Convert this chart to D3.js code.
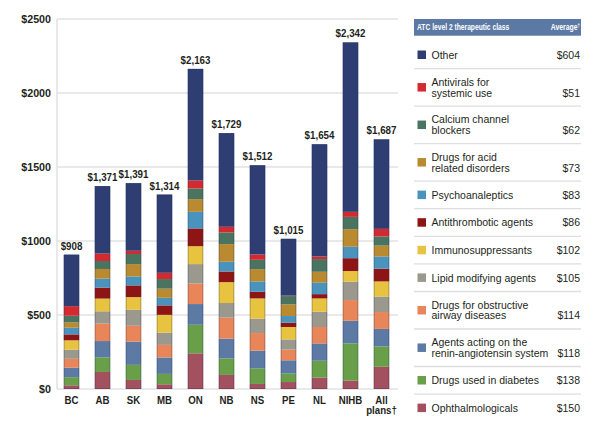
<!DOCTYPE html>
<html><head><meta charset="utf-8">
<script src="https://cdn.jsdelivr.net/npm/d3@7"></script>
<style>
body{margin:0;background:#fff;}
svg{display:block;font-family:"Liberation Sans",Arial,sans-serif;}
</style></head>
<body><svg id="c" width="600" height="423"></svg>
<script>
// ---- data ----
const categories = ["BC","AB","SK","MB","ON","NB","NS","PE","NL","NIHB","All plans†"];
// series, bottom to top of each stack
const ophthalmologicals = [25,115,61,32,241,95,34,47,77,56,150];
const diabetes          = [55,99,102,70,193,112,106,57,114,252,138];
const reninAngiotensin  = [64,110,157,111,140,133,119,90,117,153,118];
const obstructiveAirway = [60,118,107,85,139,142,119,72,111,140,114];
const lipidModifying    = [62,83,108,83,131,99,97,69,103,124,105];
const immunosuppressants= [63,86,86,120,121,141,137,84,90,72,102];
const antithrombotic    = [40,74,79,64,120,72,45,29,29,87,86];
const psychoanaleptics  = [45,61,61,51,112,66,70,45,77,77,83];
const acidRelated       = [36,65,83,62,86,119,83,79,74,119,73];
const calciumChannel    = [45,54,68,65,72,79,63,56,86,83,62];
const antivirals        = [65,50,22,42,54,38,36,3,18,34,51];
const other             = [348,456,457,529,754,633,603,384,758,1145,605];

const seriesNames = ["Ophthalmologicals","Drugs used in diabetes","Agents acting on the renin-angiotensin system","Drugs for obstructive airway diseases","Lipid modifying agents","Immunosuppressants","Antithrombotic agents","Psychoanaleptics","Drugs for acid related disorders","Calcium channel blockers","Antivirals for systemic use","Other"];
const seriesValues = [ophthalmologicals,diabetes,reninAngiotensin,obstructiveAirway,lipidModifying,immunosuppressants,antithrombotic,psychoanaleptics,acidRelated,calciumChannel,antivirals,other];
const seriesColors = ["#a3505f","#6a9f4a","#5d7aa5","#e8865a","#9b998e","#e7c33f","#8e1515","#4a93bd","#b98a30","#4b7460","#d32a30","#2e3e73"];

// legend (top to bottom)
const legendLabels = [["Other"],["Antivirals for","systemic use"],["Calcium channel","blockers"],["Drugs for acid","related disorders"],["Psychoanaleptics"],["Antithrombotic agents"],["Immunosuppressants"],["Lipid modifying agents"],["Drugs for obstructive","airway diseases"],["Agents acting on the","renin-angiotensin system"],["Drugs used in diabetes"],["Ophthalmologicals"]];
const legendAverages = ["$604","$51","$62","$73","$83","$86","$102","$105","$114","$118","$138","$150"];

const yTicks = [0,500,1000,1500,2000,2500];

// ---- build ----
const svg = d3.select("#c");
const ink = "#231f20";
// horizontally condense a text around its x anchor (mimics a condensed face)
function condense(sel, k){
  sel.attr("transform", function(){ const x0 = +d3.select(this).attr("x") || 0; return `translate(${x0*(1-k)},0) scale(${k},1)`; });
}
const rows = categories.map((c,i)=>{ const o={cat:c}; seriesNames.forEach((s,j)=>o[s]=seriesValues[j][i]); return o; });
const stack = d3.stack().keys(seriesNames)(rows);

const x = d3.scaleBand().domain(categories).range([56,397]).paddingInner(0.5).paddingOuter(0.25);
const y = d3.scaleLinear().domain([0,2500]).range([389,19]);

// grid
const g = svg.append("g");
g.selectAll("line.grid").data(yTicks).join("line")
  .attr("x1",57).attr("x2",398).attr("y1",d=>y(d)).attr("y2",d=>y(d))
  .attr("stroke","#e2e2e2").attr("stroke-width",1.5);
g.append("line").attr("x1",57).attr("x2",57).attr("y1",y(2500)).attr("y2",y(0)).attr("stroke","#e2e2e2").attr("stroke-width",1.5);

// y labels
g.selectAll("text.yt").data(yTicks).join("text")
  .attr("x",51).attr("y",d=>y(d)+4.2).attr("text-anchor","end")
  .attr("font-size",11.5).attr("font-weight","bold").attr("fill",ink)
  .text(d=>"$"+d).call(condense,0.93);

// bars
const layers = svg.append("g").selectAll("g").data(stack).join("g").attr("fill",(d,i)=>seriesColors[i]);
layers.selectAll("rect").data(d=>d).join("rect")
  .attr("x",d=>x(d.data.cat)).attr("width",x.bandwidth())
  .attr("y",d=>y(d[1])).attr("height",d=>Math.max(0,y(d[0])-y(d[1])));

// outline on each bar
const totals = categories.map((c,i)=>d3.sum(seriesValues,s=>s[i]));
svg.append("g").selectAll("rect").data(categories).join("rect")
  .attr("x",(c)=>x(c)+0.4).attr("width",x.bandwidth()-0.8)
  .attr("y",(c,i)=>y(totals[i])+0.4).attr("height",(c,i)=>y(0)-y(totals[i])-0.8)
  .attr("fill","none").attr("stroke","#1f2d5c").attr("stroke-opacity",0.35).attr("stroke-width",0.8);

// total labels
const fmt = d3.format(",");
svg.append("g").selectAll("text").data(categories).join("text")
  .attr("x",c=>x(c)+x.bandwidth()/2).attr("y",(c,i)=>y(totals[i])-5)
  .attr("text-anchor","middle").attr("font-size",11.5).attr("font-weight","bold").attr("fill",ink)
  .text((c,i)=>"$"+fmt(totals[i])).call(condense,0.85);

// x labels
const xl = svg.append("g").selectAll("text").data(categories).join("text")
  .attr("x",c=>x(c)+x.bandwidth()/2).attr("y",404)
  .attr("text-anchor","middle").attr("font-size",11).attr("font-weight","bold").attr("fill",ink);
xl.each(function(c){
  const parts = c.split(" ");
  d3.select(this).selectAll("tspan").data(parts).join("tspan")
    .attr("x",x(c)+x.bandwidth()/2).attr("dy",(p,k)=>k?10.5:0).text(p=>p);
});
xl.call(condense,0.88);

// legend
const L = svg.append("g");
const lx0=414, lx1=581;
L.append("rect").attr("x",lx0).attr("y",19).attr("width",lx1-lx0).attr("height",16.7).attr("fill","#5b79a4");
L.append("text").attr("x",417).attr("y",30.5).attr("font-size",8.6).attr("font-weight","bold").attr("fill","#fff")
  .text("ATC level 2 therapeutic class").call(condense,0.78);
const avgT = L.append("text").attr("x",580).attr("y",30.5).attr("text-anchor","end").attr("font-size",8.6).attr("font-weight","bold").attr("fill","#fff");
avgT.append("tspan").text("Average");
avgT.append("tspan").attr("font-size",5.5).attr("dy",-3.5).text("†");
avgT.call(condense,0.8);

let yy = 41;
legendLabels.forEach((lines,i)=>{
  const h = lines.length>1?37.5:27.6;
  const cy = yy + h/2;
  L.append("rect").attr("x",417.5).attr("y",cy-4.3).attr("width",8.5).attr("height",8.5).attr("fill",seriesColors[seriesColors.length-1-i]);
  const t = L.append("text").attr("font-size",10.5).attr("fill",ink);
  const lh = 10.7;
  lines.forEach((ln,k)=>{
    t.append("tspan").attr("x",431.5).attr("y",cy+3.8 + (k-(lines.length-1)/2)*lh).text(ln);
  });
  L.append("text").attr("x",580).attr("y",cy+3.8+((lines.length-1)/2)*lh).attr("text-anchor","end").attr("font-size",10.5).attr("fill",ink).text(legendAverages[i]);
  yy += h;
  if(i<legendLabels.length-1)
    L.append("line").attr("x1",lx0).attr("x2",lx1).attr("y1",yy).attr("y2",yy).attr("stroke","#dedede").attr("stroke-width",1.3);
});
</script></body></html>
